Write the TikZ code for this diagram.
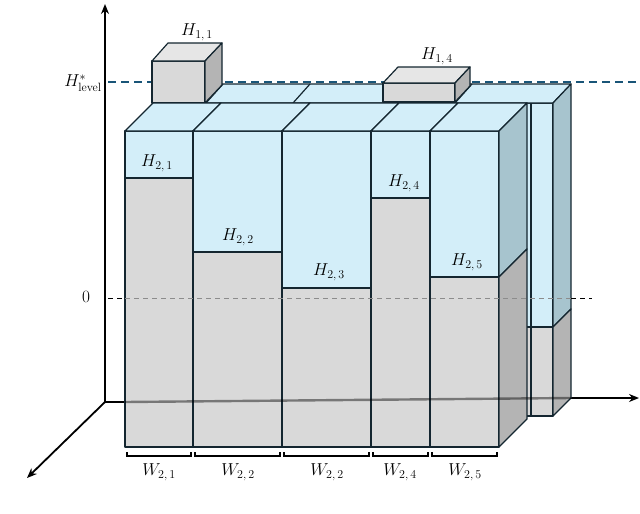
\documentclass[tikz,border=0pt]{standalone}
\usetikzlibrary{arrows.meta}
\begin{document}
\begin{tikzpicture}[x=1pt,y=-1pt,
  lbl/.style={font=\fontsize{17}{19}\selectfont,inner sep=0pt},
  bx/.style={draw=edg,line width=1.2pt,line join=round},
  ax/.style={line width=1.8pt,-{Stealth[length=10pt,width=8pt]}}]
\definecolor{edg}{RGB}{20,38,48}
\definecolor{fl}{RGB}{211,238,249}
\definecolor{gr}{RGB}{217,217,217}
\definecolor{grt}{RGB}{230,230,230}
\definecolor{grs}{RGB}{180,180,180}
\definecolor{fls}{RGB}{167,196,206}
\definecolor{lvl}{RGB}{25,85,120}
\useasboundingbox (0,0) rectangle (640,514);
% axes
\coordinate (O) at (105,402);
\coordinate (Y) at (105,4);
\coordinate (X) at (639,398);
\coordinate (Z) at (27,478);
\draw[ax] (O) -- (Y);
\draw[ax] (O) -- (Z);
\draw[line width=1.8pt] (O) -- (125,402);
\draw[ax] (571,398) -- (X);
% back row
\fill[bx,fill=fl] (153,103) rectangle (553,327);
\draw[bx,fill=gr] (153,327) rectangle (553,416);
\draw[bx,fill=fl] (153,103) -- (170,84) -- (571,84) -- (553,103) -- cycle;
\draw[bx] (206,103) -- (223,84) (293,103) -- (310,84) (455,103) -- (472,84);
\draw[bx,fill=fls] (553,103) -- (571,84) -- (571,309) -- (553,327) -- cycle;
\draw[bx,fill=grs] (553,327) -- (571,309) -- (571,398) -- (553,416) -- cycle;
\draw[bx] (531,103) -- (531,416);
% level line
\draw[lvl,line width=2.2pt,dash pattern=on 8pt off 5pt] (108,82) -- (640,82);
\node[lbl] at (83,83) {$H^{*}_{\mathrm{level}}$};
% H11 cube
\draw[bx,fill=gr] (152,61) rectangle (205,103);
\draw[bx,fill=grt] (152,61) -- (168,43) -- (222,43) -- (205,61) -- cycle;
\draw[bx,fill=grs] (205,61) -- (222,43) -- (222,85) -- (205,103) -- cycle;
\node[lbl] at (197,32) {$H_{1,\,1}$};
% H14 box
\draw[bx,fill=gr] (383,83) rectangle (455,102);
\draw[bx,fill=grt] (383,83) -- (398,67) -- (470,67) -- (455,83) -- cycle;
\draw[bx,fill=grs] (455,83) -- (470,67) -- (470,86) -- (455,102) -- cycle;
\node[lbl] at (437,56) {$H_{1,\,4}$};
% front row
\foreach \a/\b/\g in {125/193/178,193/282/252,282/371/288,371/430/198,430/499/277}{
  \draw[bx,fill=fl] (\a,131) rectangle (\b,\g);
  \draw[bx,fill=gr] (\a,\g) rectangle (\b,447);
  \draw[bx,fill=fl] (\a,131) -- (\a+28,103) -- (\b+28,103) -- (\b,131) -- cycle;
  \draw[line width=1.2pt] (\a+2,452) -- (\a+2,456) -- (\b-2,456) -- (\b-2,452);
}
\draw[bx,fill=fls] (499,131) -- (527,103) -- (527,249) -- (499,277) -- cycle;
\draw[bx,fill=grs] (499,277) -- (527,249) -- (527,419) -- (499,447) -- cycle;
\node[lbl] at (157,163) {$H_{2,\,1}$};
\node[lbl] at (238,237) {$H_{2,\,2}$};
\node[lbl] at (329,272) {$H_{2,\,3}$};
\node[lbl] at (404,183) {$H_{2,\,4}$};
\node[lbl] at (467,262) {$H_{2,\,5}$};
\node[lbl] at (159,472) {$W_{2,\,1}$};
\node[lbl] at (238,472) {$W_{2,\,2}$};
\node[lbl] at (327,472) {$W_{2,\,2}$};
\node[lbl] at (400,472) {$W_{2,\,4}$};
\node[lbl] at (465,472) {$W_{2,\,5}$};
% zero line
\draw[line width=1pt,dash pattern=on 5pt off 4pt] (108,298) -- (125,298);
\draw[line width=1pt,dash pattern=on 5pt off 4pt] (571,298) -- (592,298);
\draw[black!45,line width=1pt,dash pattern=on 5pt off 4pt] (125,298) -- (571,298);
\node[lbl] at (86,297) {$0$};
% axis through boxes
\draw[black,opacity=0.45,line width=2.4pt] (125,402) -- (571,398);
\end{tikzpicture}
\end{document}
